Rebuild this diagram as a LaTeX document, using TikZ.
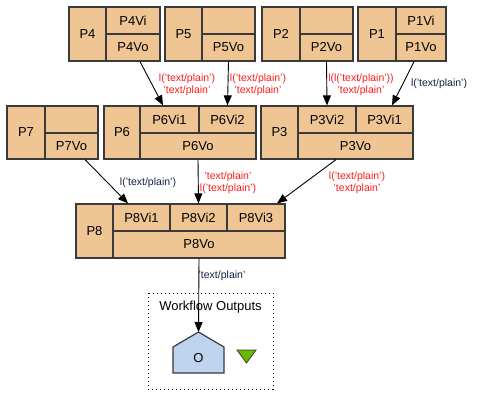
\documentclass[tikz,border=0pt]{standalone}
\usepackage{fontspec}
\setmainfont{Liberation Sans}
\usetikzlibrary{arrows.meta}
\definecolor{procfill}{HTML}{EEC593}
\definecolor{procline}{HTML}{3A3A3A}
\definecolor{outfill}{HTML}{BED3EE}
\definecolor{portgreen}{HTML}{66BB00}
\definecolor{lblred}{HTML}{FF1A1A}
\definecolor{lblnavy}{HTML}{102040}
\begin{document}
\begin{tikzpicture}[x=1pt,y=-1pt,
    cell/.style 2 args={draw=procline, fill=procfill, line width=1.2pt, inner sep=0pt,
      minimum width=#1, minimum height=#2, font=\fontsize{13}{15}\selectfont},
    link/.style={line width=0.9pt, -{Triangle[length=10pt,width=8pt]}},
    redlbl/.style={text=lblred, align=center, font=\fontsize{10.5}{11.5}\selectfont},
    navylbl/.style={text=lblnavy, align=center, font=\fontsize{10.5}{11.5}\selectfont}]

    \useasboundingbox (0,0) rectangle (486,418);

    \node[cell={37}{54}] (p4) at (87.5,34) {P4};
    \node[cell={54}{27}] (p4vi) at (133,20.5) {P4Vi};
    \node[cell={54}{27}] (p4vo) at (133,47.5) {P4Vo};

    \node[cell={37}{54}] (p5) at (183.5,34) {P5};
    \node[cell={53}{27}] (p5vi) at (228.5,20.5) {};
    \node[cell={53}{27}] (p5vo) at (228.5,47.5) {P5Vo};

    \node[cell={38}{54}] (p2) at (281,34) {P2};
    \node[cell={53}{27}] (p2vi) at (326.5,20.5) {};
    \node[cell={53}{27}] (p2vo) at (326.5,47.5) {P2Vo};

    \node[cell={38}{54}] (p1) at (377,34) {P1};
    \node[cell={50}{27}] (p1vi) at (421,20.5) {P1Vi};
    \node[cell={50}{27}] (p1vo) at (421,47.5) {P1Vo};

    \node[cell={38}{53}] (p7) at (26,132.5) {P7};
    \node[cell={53}{27}] (p7vi) at (71.5,119.5) {};
    \node[cell={53}{26}] (p7vo) at (71.5,146) {P7Vo};

    \node[cell={36}{53}] (p6) at (122,132.5) {P6};
    \node[cell={59}{27}] (p6vi1) at (169.5,119.5) {P6Vi1};
    \node[cell={57}{27}] (p6vi2) at (227.5,119.5) {P6Vi2};
    \node[cell={116}{26}] (p6vo) at (198,146) {P6Vo};

    \node[cell={37}{53}] (p3) at (279.5,132.5) {P3};
    \node[cell={58}{27}] (p3vi2) at (327,119.5) {P3Vi2};
    \node[cell={57}{27}] (p3vi1) at (384.5,119.5) {P3Vi1};
    \node[cell={115}{26}] (p3vo) at (355.5,146) {P3Vo};

    \node[cell={37}{54}] (p8) at (94.5,231) {P8};
    \node[cell={57}{27}] (p8vi1) at (141.5,217.5) {P8Vi1};
    \node[cell={57}{27}] (p8vi2) at (198.5,217.5) {P8Vi2};
    \node[cell={58}{27}] (p8vi3) at (256,217.5) {P8Vi3};
    \node[cell={172}{27}] (p8vo) at (199,244.5) {P8Vo};

    \draw[dash pattern=on 1pt off 3pt, line width=1pt] (148,293) rectangle (273,389);
    \node[font=\fontsize{13}{15}\selectfont] (wfout) at (210.5,307) {Workflow Outputs};
    \draw[draw=procline, fill=outfill, line width=1.2pt]
      (173,373) -- (224,373) -- (224,347) -- (198.5,332) -- (173,347) -- cycle;
    \node[font=\fontsize{13}{15}\selectfont] (o) at (198.5,358) {O};
    \coordinate (otop) at (198.5,332);
    \draw[draw=procline, fill=portgreen, line width=0.8pt]
      (237,350) -- (256,350) -- (246.5,363) -- cycle;

    \draw[link] ([xshift=7pt]p4vo.south) -- ([xshift=-6.5pt]p6vi1.north);
    \draw[link] (p5vo.south) -- (p6vi2.north);
    \draw[link] (p2vo.south) -- (p3vi2.north);
    \draw[link] ([xshift=-7pt]p1vo.south) -- ([xshift=7.5pt]p3vi1.north);
    \draw[link] ([xshift=13.5pt]p7vo.south) -- ([xshift=-13.5pt]p8vi1.north);
    \draw[link] (p6vo.south) -- (p8vi2.north);
    \draw[link] ([xshift=-19.5pt]p3vo.south) -- ([xshift=21pt]p8vi3.north);
    \draw[link] (p8vo.south) -- (otop);

    \node[redlbl] (l46) at (187,85) {l('text/plain')\\'text/plain'};
    \node[redlbl] (l56) at (258,85) {l('text/plain')\\'text/plain'};
    \node[redlbl] (l23) at (361,85) {l(l('text/plain'))\\'text/plain'};
    \node[navylbl] (l13) at (439,84) {l('text/plain')};
    \node[navylbl] (l78) at (148,183) {l('text/plain')};
    \node[redlbl] (l68) at (228,183) {'text/plain'\\l('text/plain')};
    \node[redlbl] (l38) at (357,183) {l('text/plain')\\'text/plain'};
    \node[navylbl] (l8o) at (222,276) {'text/plain'};

\end{tikzpicture}
\end{document}
